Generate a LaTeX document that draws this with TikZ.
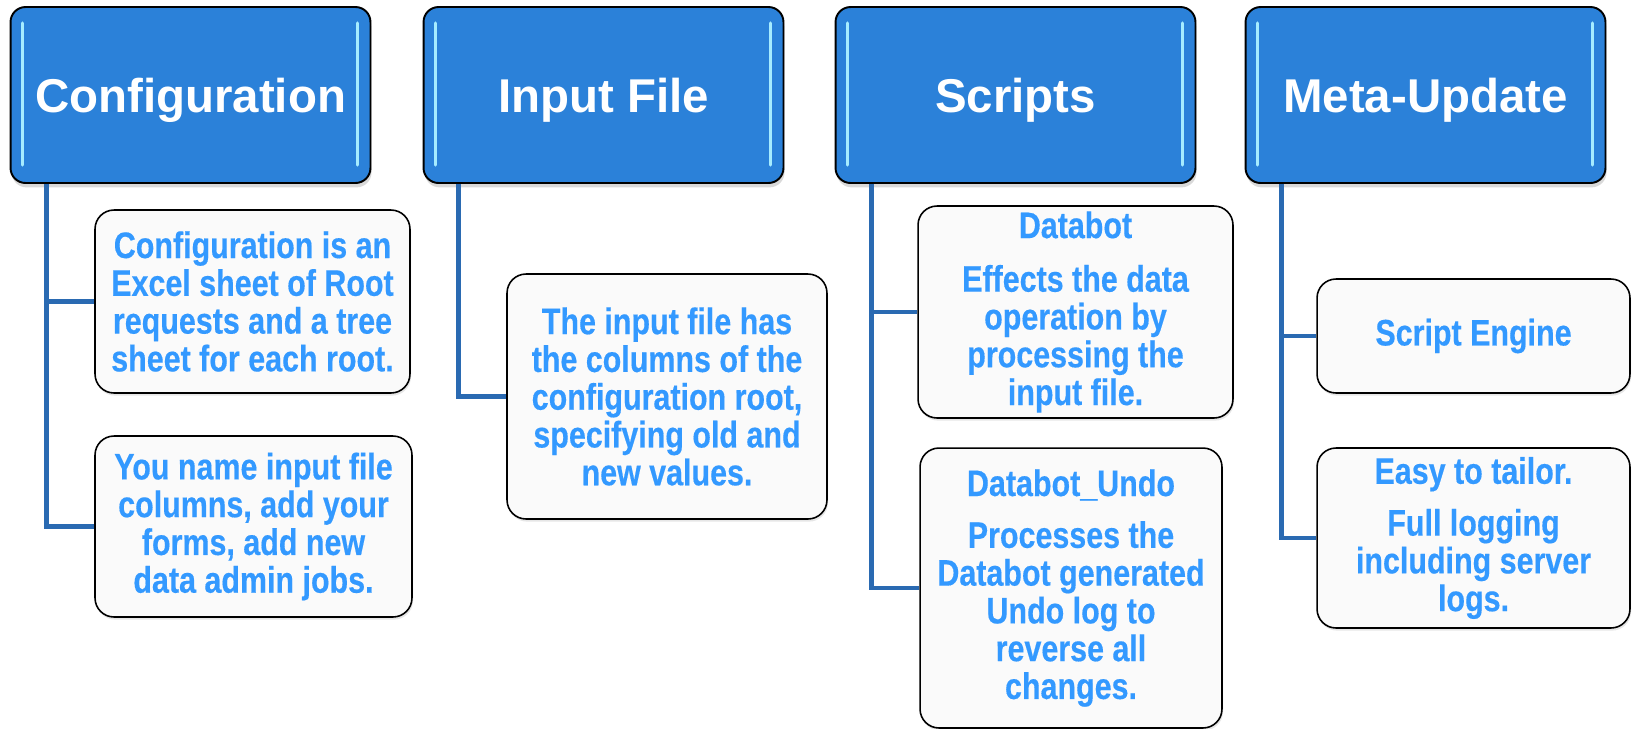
\documentclass[tikz,border=0pt]{standalone}
\usepackage{fontspec}
\setmainfont{Liberation Sans}
\newfontfamily\narrowsans[FakeStretch=0.825, BoldFeatures={FakeBold=0.35}]{Liberation Sans}
\usetikzlibrary{shadows}
\definecolor{headblue}{HTML}{2B81D9}
\definecolor{textblue}{HTML}{3399FF}
\definecolor{linkblue}{HTML}{2A6AB2}
\definecolor{glint}{HTML}{A6ECFF}

\begin{document}
\begin{tikzpicture}[x=0.02cm, y=-0.02cm,
  glintline/.style={glint, line width=1.8pt, line cap=round},
  head/.style={draw=black, line width=1.1pt, fill=headblue, rounded corners=0.3cm,
    minimum width=7.2cm, minimum height=3.52cm, text=white,
    font=\fontsize{27}{32}\selectfont\bfseries, text height=19.5pt, text depth=0pt,
    drop shadow={shadow xshift=0.6pt, shadow yshift=-2.5pt, opacity=0.3},
    path picture={
      \draw[glintline] ([xshift=0.24cm,yshift=-0.32cm]path picture bounding box.north west)
        -- ([xshift=0.24cm,yshift=0.36cm]path picture bounding box.south west);
      \draw[glintline] ([xshift=-0.26cm,yshift=-0.32cm]path picture bounding box.north east)
        -- ([xshift=-0.26cm,yshift=0.36cm]path picture bounding box.south east);
    }},
  leaf/.style={draw=black, line width=0.9pt, fill=black!2, rounded corners=0.38cm,
    text=textblue, align=center, inner sep=0pt,
    font=\narrowsans\fontsize{21}{21.5}\selectfont\bfseries,
    drop shadow={shadow xshift=0.6pt, shadow yshift=-1.5pt, opacity=0.2}},
  trunk/.style={linkblue, line width=2.8pt}
]
\useasboundingbox (0,0) rectangle (1635,728);

% top row
\node[head] (cfg) at (190.5,95) {Configuration};
\node[head] (inp) at (603.5,95) {Input File};
\node[head] (scr) at (1015.5,95) {Scripts};
\node[head] (met) at (1425.5,95) {Meta-Update};

% leaves
\node[leaf, minimum width=6.3cm, minimum height=3.66cm] (cfg1) at (252.5,301.5)
  {Configuration is an\\Excel sheet of Root\\requests and a tree\\sheet for each root.};
\node[leaf, minimum width=6.34cm, minimum height=3.62cm] (cfg2) at (253.5,526.5)
  {You name input file\\columns, add your\\forms, add new\\data admin jobs.};
\node[leaf, minimum width=6.4cm, minimum height=4.9cm] (inp1) at (667,396.5)
  {The input file has\\the columns of the\\configuration root,\\specifying old and\\new values.};
\node[leaf, minimum width=6.3cm, minimum height=4.24cm] (scr1) at (1075.5,312)
  {Databot\\[9pt]Effects the data\\operation by\\processing the\\input file.};
\node[leaf, minimum width=6.04cm, minimum height=5.6cm] (scr2) at (1071,588)
  {Databot\_Undo\\[8pt]Processes the\\Databot generated\\Undo log to\\reverse all\\changes.};
\node[leaf, minimum width=6.26cm, minimum height=2.28cm] (met1) at (1473.5,336)
  {Script Engine};
\node[leaf, minimum width=6.26cm, minimum height=3.6cm] (met2) at (1473.5,538)
  {Easy to tailor.\\[8pt]Full logging\\including server\\logs.};

% connectors
\draw[trunk] ([xshift=0.74cm]cfg.south west) |- (cfg1.west);
\draw[trunk] ([xshift=0.74cm]cfg.south west) |- (cfg2.west);
\draw[trunk] ([xshift=0.72cm]inp.south west) |- (inp1.west);
\draw[trunk] ([xshift=0.74cm]scr.south west) |- (scr1.west);
\draw[trunk] ([xshift=0.74cm]scr.south west) |- (scr2.west);
\draw[trunk] ([xshift=0.74cm]met.south west) |- (met1.west);
\draw[trunk] ([xshift=0.74cm]met.south west) |- (met2.west);
\end{tikzpicture}
\end{document}
